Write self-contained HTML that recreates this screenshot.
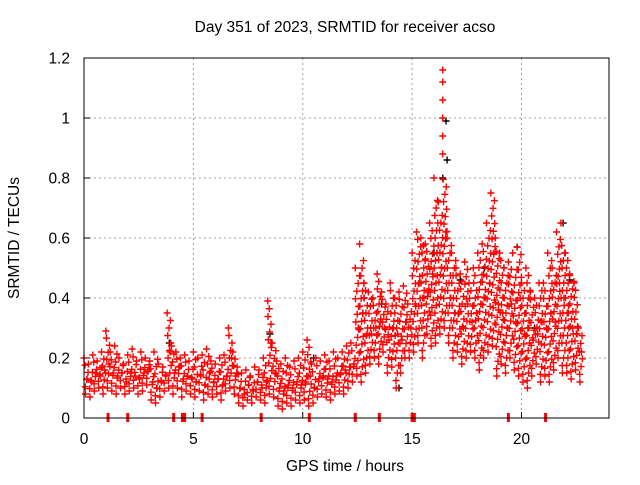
<!DOCTYPE html>
<html><head><meta charset="utf-8"><style>
body{margin:0;background:#fff}
svg text{font-family:"Liberation Sans",sans-serif;font-size:15.5px;fill:#000}
</style></head><body>
<svg id="chart" width="640" height="480" xmlns="http://www.w3.org/2000/svg">
<text x="345" y="32" text-anchor="middle">Day 351 of 2023, SRMTID for receiver acso</text>
<text x="345" y="471" text-anchor="middle">GPS time / hours</text>
<text transform="translate(19,238) rotate(-90)" text-anchor="middle">SRMTID / TECUs</text>
<g id="grid"></g>
<g id="ticks"></g>
<g id="marks"></g>
<rect x="84" y="58" width="525" height="360" fill="none" stroke="#000" stroke-width="1"/>
</svg>
<script>
const xTicks=[0,5,10,15,20];
const yTicks=[0,0.2,0.4,0.6,0.8,1,1.2];
const yTickLabels=["0","0.2","0.4","0.6","0.8","1","1.2"];
const step=0.2;
const hiVals=[.20,.18,.21,.19,.22,.29,.22,.24,.20,.18,.21,.23,.19,.22,.20,.19,.22,.18,.17,.35,.24,.22,.20,.21,.19,.22,.20,.21,.23,.19,.18,.20,.21,.30,.22,.17,.15,.16,.14,.17,.16,.20,.39,.25,.19,.18,.20,.17,.19,.20,.22,.26,.18,.20,.19,.21,.19,.22,.20,.22,.24,.25,.50,.58,.45,.42,.40,.48,.42,.38,.45,.40,.42,.44,.38,.55,.62,.60,.58,.65,.80,.72,1.16,.60,.55,.50,.48,.52,.45,.50,.55,.58,.65,.75,.60,.55,.50,.52,.55,.57,.45,.50,.42,.40,.45,.45,.55,.50,.62,.65,.55,.48,.45,.30];
const loVals=[.08,.07,.09,.10,.08,.10,.09,.08,.10,.08,.09,.10,.08,.09,.11,.06,.05,.07,.09,.10,.08,.10,.07,.09,.08,.07,.09,.06,.08,.07,.08,.06,.09,.10,.08,.05,.04,.06,.05,.07,.06,.05,.08,.07,.04,.03,.05,.04,.06,.05,.06,.04,.05,.07,.08,.07,.06,.08,.09,.08,.10,.12,.14,.12,.15,.18,.20,.18,.22,.15,.17,.10,.15,.20,.20,.22,.25,.20,.28,.24,.25,.28,.30,.25,.20,.22,.18,.20,.22,.20,.16,.20,.22,.24,.14,.18,.15,.20,.16,.14,.12,.10,.14,.18,.12,.14,.12,.16,.20,.15,.15,.13,.16,.12];
const midVals=[.13,.12,.15,.14,.16,.18,.15,.14,.15,.12,.15,.14,.13,.15,.16,.12,.10,.12,.14,.22,.15,.17,.13,.14,.13,.12,.14,.11,.15,.12,.13,.11,.14,.20,.14,.10,.08,.11,.09,.12,.10,.12,.25,.15,.10,.09,.11,.10,.12,.11,.12,.14,.10,.13,.14,.13,.12,.14,.15,.16,.17,.18,.30,.35,.28,.28,.30,.32,.30,.26,.30,.28,.26,.32,.30,.38,.45,.40,.42,.48,.55,.50,.62,.40,.35,.35,.30,.38,.32,.35,.38,.40,.45,.55,.38,.35,.30,.38,.32,.40,.28,.30,.26,.28,.32,.30,.35,.32,.45,.40,.35,.30,.28,.22];
const blackT=[16.55,16.6,16.4,14.4,17.2,18.3,19.8,21.9,22.2,3.9,8.5,10.5,12.8,16.0,13.6,20.6];
const blackV=[0.99,0.86,0.80,0.10,0.46,0.50,0.57,0.65,0.46,0.25,0.28,0.20,0.40,0.55,0.38,0.30];
const zeroT=[1.1,2.0,4.1,4.5,4.6,5.4,8.1,10.3,12.4,13.5,15.0,15.1,19.4,21.1];

const X=t=>84+t*(525/24), Y=v=>418-v*300;
const NS="http://www.w3.org/2000/svg";
const grid=document.getElementById('grid'),ticks=document.getElementById('ticks'),marks=document.getElementById('marks');
function mk(tag,at,par){const e=document.createElementNS(NS,tag);for(const k in at)e.setAttribute(k,at[k]);par.appendChild(e);return e;}
xTicks.forEach(t=>{
  if(t>0){const g=mk('line',{x1:X(t),x2:X(t),y1:58,y2:418,stroke:'#a0a0a0','stroke-dasharray':'2,3'},grid);
  
  }
  const tk=mk('text',{x:X(t),y:444,'text-anchor':'middle'},ticks);tk.textContent=t;
  
  
  mk('line',{x1:X(t),x2:X(t),y1:418,y2:412,stroke:'#000'},ticks);
});
yTicks.forEach((v,i)=>{
  if(v>0){const g=mk('line',{x1:84,x2:609,y1:Y(v),y2:Y(v),stroke:'#a0a0a0','stroke-dasharray':'2,3'},grid);
  
  }
  const tk=mk('text',{x:70,y:Y(v)+5.5,'text-anchor':'end'},ticks);tk.textContent=yTickLabels[i];
  
  
  mk('line',{x1:84,x2:90,y1:Y(v),y2:Y(v),stroke:'#000'},ticks);
});
function cross(x,y,c){const p=mk('path',{d:`M${x-3.5},${y}h7M${x},${y-3.5}v7`,stroke:c,'stroke-width':1.4},marks);
  
  }
blackT.forEach((t,i)=>cross(X(t),Y(blackV[i]),'#000'));
hiVals.forEach((h,i)=>{
  const t=i*step, l=loVals[i], m=midVals[i];
  cross(X(t),Y(h),'#f00');
  cross(X(t+0.07),Y(l),'#f00');
  cross(X(t+0.14),Y(m),'#f00');
  const top=Math.min(h,m+0.2);
  const n=Math.max(2,Math.round((top-l)/0.025));
  for(let k=1;k<n;k++){
    const v=l+(top-l)*k/n;
    cross(X(t+((k*0.061)%0.2)),Y(v),'#f00');
  }
  if(h>top){for(let v=top+0.06;v<h;v+=0.06)cross(X(t),Y(v),'#f00');}
});
zeroT.forEach(t=>{const r=mk('rect',{x:X(t)-1.5,y:413,width:3,height:9,fill:'#f00'},marks);
  
  });
</script>
</body></html>
